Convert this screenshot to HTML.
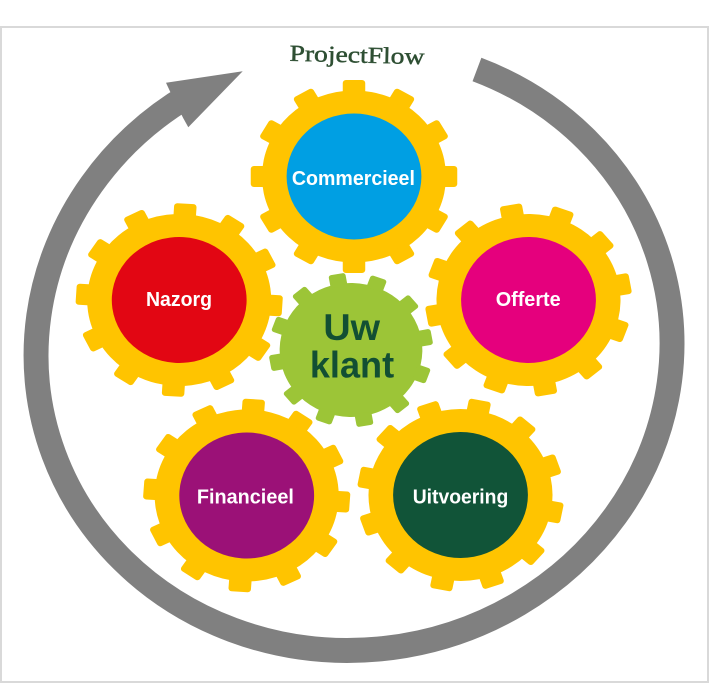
<!DOCTYPE html>
<html>
<head>
<meta charset="utf-8">
<style>
  html,body{margin:0;padding:0;background:#fff;}
  body{width:709px;height:684px;overflow:hidden;}
  svg{display:block;}
  .lbl{font-family:"Liberation Sans",sans-serif;font-weight:bold;fill:#fff;font-size:20px;}
  .uk{font-family:"Liberation Sans",sans-serif;font-weight:bold;fill:#124F33;font-size:37px;}
  .title{font-family:"Liberation Serif",serif;fill:#2E4F33;stroke:#2E4F33;stroke-width:0.45px;font-size:23px;}
</style>
</head>
<body>
<svg width="709" height="684" viewBox="0 0 709 684" xmlns="http://www.w3.org/2000/svg">
  <defs>
    <g id="teeth">
      <rect x="-10.5" y="-96.5" width="21" height="14" rx="3" transform="rotate(0)"/>
      <rect x="-10.5" y="-96.5" width="21" height="14" rx="3" transform="rotate(30)"/>
      <rect x="-10.5" y="-96.5" width="21" height="14" rx="3" transform="rotate(60)"/>
      <rect x="-10.5" y="-96.5" width="21" height="14" rx="3" transform="rotate(90)"/>
      <rect x="-10.5" y="-96.5" width="21" height="14" rx="3" transform="rotate(120)"/>
      <rect x="-10.5" y="-96.5" width="21" height="14" rx="3" transform="rotate(150)"/>
      <rect x="-10.5" y="-96.5" width="21" height="14" rx="3" transform="rotate(180)"/>
      <rect x="-10.5" y="-96.5" width="21" height="14" rx="3" transform="rotate(210)"/>
      <rect x="-10.5" y="-96.5" width="21" height="14" rx="3" transform="rotate(240)"/>
      <rect x="-10.5" y="-96.5" width="21" height="14" rx="3" transform="rotate(270)"/>
      <rect x="-10.5" y="-96.5" width="21" height="14" rx="3" transform="rotate(300)"/>
      <rect x="-10.5" y="-96.5" width="21" height="14" rx="3" transform="rotate(330)"/>
    </g>
    <g id="gteeth">
      <rect x="-8" y="-77" width="16" height="13" rx="2.5" transform="rotate(0)"/>
      <rect x="-8" y="-77" width="16" height="13" rx="2.5" transform="rotate(30)"/>
      <rect x="-8" y="-77" width="16" height="13" rx="2.5" transform="rotate(60)"/>
      <rect x="-8" y="-77" width="16" height="13" rx="2.5" transform="rotate(90)"/>
      <rect x="-8" y="-77" width="16" height="13" rx="2.5" transform="rotate(120)"/>
      <rect x="-8" y="-77" width="16" height="13" rx="2.5" transform="rotate(150)"/>
      <rect x="-8" y="-77" width="16" height="13" rx="2.5" transform="rotate(180)"/>
      <rect x="-8" y="-77" width="16" height="13" rx="2.5" transform="rotate(210)"/>
      <rect x="-8" y="-77" width="16" height="13" rx="2.5" transform="rotate(240)"/>
      <rect x="-8" y="-77" width="16" height="13" rx="2.5" transform="rotate(270)"/>
      <rect x="-8" y="-77" width="16" height="13" rx="2.5" transform="rotate(300)"/>
      <rect x="-8" y="-77" width="16" height="13" rx="2.5" transform="rotate(330)"/>
    </g>
  </defs>

  <!-- frame -->
  <rect x="1" y="27" width="707" height="655" fill="#fff" stroke="#D9D9D9" stroke-width="2"/>

  <!-- title -->
  <text class="title" x="357" y="62.5" text-anchor="middle" textLength="135" lengthAdjust="spacingAndGlyphs" transform="rotate(1.5 357 56)">ProjectFlow</text>

  <!-- circular arrow -->
  <g transform="translate(354,349.4) rotate(-10)">
    <path d="M 169.7 -254.3 A 318.5 300.5 0 1 1 -119.3 -278.6" fill="none" stroke="#808080" stroke-width="25"/>
  </g>
  <polygon points="242.7,71.3 166,82.7 171.7,95 183.3,118.3 188.3,127.3" fill="#808080"/>

  <!-- Commercieel -->
  <g transform="translate(354,176.5) scale(1.07,1)" fill="#FFC400">
    <circle r="86"/>
    <use href="#teeth"/>
    <circle r="63" fill="#009FE3"/>
  </g>
  <text class="lbl" x="353.4" y="185" text-anchor="middle" textLength="123" lengthAdjust="spacingAndGlyphs">Commercieel</text>

  <!-- Nazorg -->
  <g transform="translate(179.2,300) scale(1.07,1) rotate(3.5)" fill="#FFC400">
    <circle r="86"/>
    <use href="#teeth"/>
    <circle r="63" fill="#E20613"/>
  </g>
  <text class="lbl" x="179" y="306" text-anchor="middle" textLength="66" lengthAdjust="spacingAndGlyphs">Nazorg</text>

  <!-- Offerte -->
  <g transform="translate(528.5,300) scale(1.07,1) rotate(-10)" fill="#FFC400">
    <circle r="86"/>
    <use href="#teeth"/>
    <circle r="63" fill="#E5007D"/>
  </g>
  <text class="lbl" x="528.2" y="306" text-anchor="middle" textLength="65" lengthAdjust="spacingAndGlyphs">Offerte</text>

  <!-- Financieel -->
  <g transform="translate(246.7,495.5) scale(1.07,1) rotate(4)" fill="#FFC400">
    <circle r="86"/>
    <use href="#teeth"/>
    <circle r="63" fill="#9B1177"/>
  </g>
  <text class="lbl" x="245.4" y="503.3" text-anchor="middle" textLength="97" lengthAdjust="spacingAndGlyphs">Financieel</text>

  <!-- Uitvoering -->
  <g transform="translate(460.5,495) scale(1.07,1) rotate(11)" fill="#FFC400">
    <circle r="86"/>
    <use href="#teeth"/>
    <circle r="63" fill="#115438"/>
  </g>
  <text class="lbl" x="460.5" y="503.3" text-anchor="middle" textLength="95.6" lengthAdjust="spacingAndGlyphs">Uitvoering</text>

  <!-- Uw klant -->
  <g transform="translate(351,350) scale(1.065,1) rotate(-10)" fill="#9CC537">
    <circle r="67"/>
    <use href="#gteeth"/>
  </g>
  <text class="uk" x="351.7" y="340" text-anchor="middle" textLength="56.7" lengthAdjust="spacingAndGlyphs">Uw</text>
  <text class="uk" x="352" y="377.7" text-anchor="middle" textLength="84.3" lengthAdjust="spacingAndGlyphs">klant</text>
</svg>
</body>
</html>
